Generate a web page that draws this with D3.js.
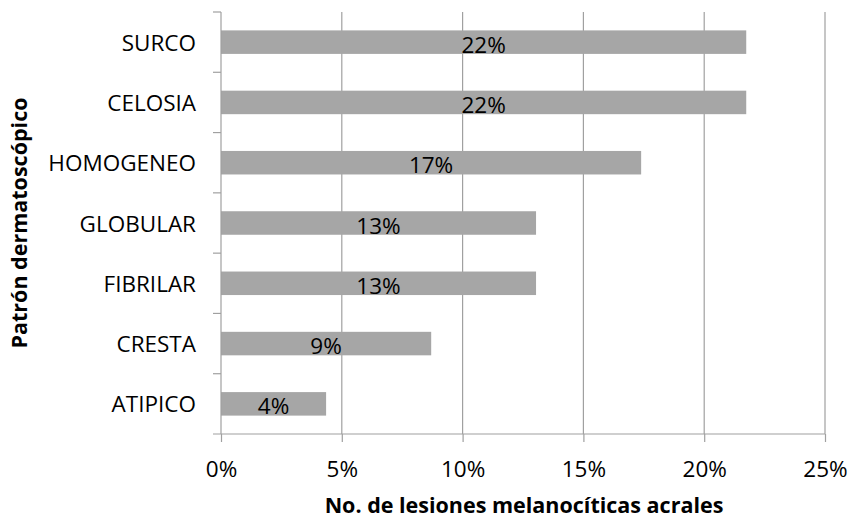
<!DOCTYPE html>
<html>
<head>
<meta charset="utf-8">
<script src="https://cdn.jsdelivr.net/npm/d3@7"></script>
<style>
  body { margin: 0; background: #fff; }
  svg text { font-family: "Open Sans", "Noto Sans", sans-serif; fill: #000; }
</style>
</head>
<body>
<svg id="chart" width="851" height="520"></svg>
<script>
// Dermoscopic patterns and share of acral melanocytic lesions (23 lesions)
const categories = ["SURCO", "CELOSIA", "HOMOGENEO", "GLOBULAR", "FIBRILAR", "CRESTA", "ATIPICO"];
const values = [0.2174, 0.2174, 0.1739, 0.1304, 0.1304, 0.0870, 0.0435];
const xTicks = [0, 0.05, 0.10, 0.15, 0.20, 0.25];
const xTitle = "No. de lesiones melanocíticas acrales";
const yTitle = "Patrón dermatoscópico";

const svg = d3.select("#chart");
const plotLeft = 221, plotRight = 825, plotTop = 12, plotBottom = 434;
const fontSize = 22.5;
const gridColor = "#a0a0a0";

const x = d3.scaleLinear().domain([0, 0.25]).range([plotLeft, plotRight]);
const y = d3.scaleBand().domain(categories).range([plotTop, plotBottom]).paddingInner(0.61).paddingOuter(0.305);
const pct = d3.format(".0%");

// vertical gridlines
svg.append("g")
  .selectAll("line")
  .data(xTicks.slice(1))
  .join("line")
  .attr("x1", d => x(d)).attr("x2", d => x(d))
  .attr("y1", plotTop).attr("y2", plotBottom)
  .attr("stroke", gridColor).attr("stroke-width", 1.2);

// bars
svg.append("g")
  .selectAll("rect")
  .data(categories)
  .join("rect")
  .attr("x", x(0))
  .attr("y", c => y(c))
  .attr("width", (c, i) => x(values[i]) - x(0))
  .attr("height", y.bandwidth())
  .attr("fill", "#a6a6a6");

// value labels, centred on each bar
svg.append("g")
  .selectAll("text")
  .data(categories)
  .join("text")
  .attr("x", (c, i) => (x(0) + x(values[i])) / 2)
  .attr("y", c => y(c) + y.bandwidth() / 2 + 10.5)
  .attr("text-anchor", "middle")
  .attr("font-size", fontSize)
  .text((c, i) => pct(values[i]));

// x axis
const xAxis = svg.append("g")
  .attr("transform", `translate(0,${plotBottom})`)
  .call(d3.axisBottom(x).tickValues(xTicks).tickFormat(pct).tickSize(8).tickPadding(19));
xAxis.select(".domain").remove();
xAxis.append("line").attr("x1", plotLeft - 8).attr("x2", plotRight).attr("stroke", gridColor).attr("stroke-width", 1.2);
xAxis.selectAll(".tick line").attr("stroke", gridColor).attr("stroke-width", 1.2);
xAxis.selectAll(".tick text").attr("font-size", fontSize).attr("font-family", '"Open Sans", sans-serif').attr("fill", "#000");

// y axis: line with tick marks at band boundaries
const yAxis = svg.append("g");
yAxis.append("line").attr("x1", plotLeft).attr("x2", plotLeft).attr("y1", plotTop).attr("y2", plotBottom)
  .attr("stroke", gridColor).attr("stroke-width", 1.2);
const step = (plotBottom - plotTop) / categories.length;
yAxis.selectAll("line.tk")
  .data(d3.range(categories.length))
  .join("line")
  .attr("class", "tk")
  .attr("x1", plotLeft - 8).attr("x2", plotLeft)
  .attr("y1", i => plotTop + i * step).attr("y2", i => plotTop + i * step)
  .attr("stroke", gridColor).attr("stroke-width", 1.2);

// category labels
yAxis.selectAll("text")
  .data(categories)
  .join("text")
  .attr("x", 196)
  .attr("y", c => y(c) + y.bandwidth() / 2 + 8.5)
  .attr("text-anchor", "end")
  .attr("font-size", fontSize)
  .text(c => c);

// axis titles
svg.append("text")
  .attr("x", 524)
  .attr("y", 513)
  .attr("text-anchor", "middle")
  .attr("font-size", 21.5)
  .attr("font-weight", "bold")
  .text(xTitle);

svg.append("text")
  .attr("transform", `translate(27,223) rotate(-90)`)
  .attr("text-anchor", "middle")
  .attr("font-size", 21.5)
  .attr("font-weight", "bold")
  .text(yTitle);
</script>
</body>
</html>
